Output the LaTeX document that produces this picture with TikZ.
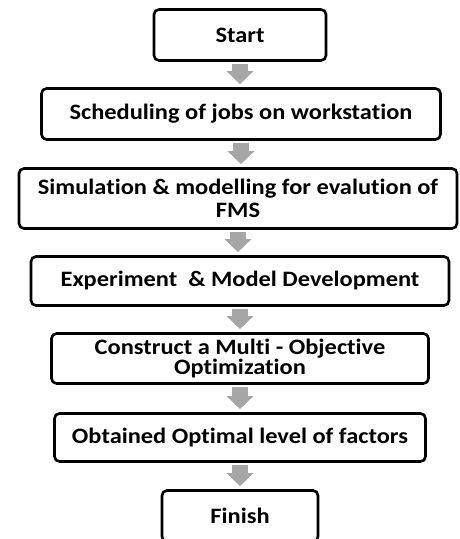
\documentclass[tikz,border=0pt]{standalone}
\usepackage{fontspec}
\setmainfont{Carlito}[Ligatures=NoCommon, FakeStretch=1.11]
\usepackage{tikz}
\tikzset{>=latex}
\usetikzlibrary{arrows.meta,calc,positioning}
\definecolor{flowgray}{HTML}{A6A6A6}
\tikzset{stepbox/.style={draw=black, line width=2.6pt, rounded corners=5pt, align=center,
           inner sep=0pt, font=\bfseries\fontsize{22}{23}\selectfont},
         tight/.style={font=\bfseries\fontsize{22}{20}\selectfont},
         flow/.style={draw=flowgray, line width=16pt, -{Triangle[width=26pt,length=13pt]},
           shorten <=2.5pt, shorten >=3pt}}

\begin{document}
\begin{tikzpicture}[x=1pt,y=1pt]
                    \useasboundingbox (0,0) rectangle (460,539);
                    % the steps, top to bottom
                    \node[stepbox, minimum width=172pt, minimum height=51pt] (start) at (240,504) {Start};
                    \node[stepbox, minimum width=399pt, minimum height=51pt] (sched) at (241,425) {Scheduling of jobs on workstation};
                    \node[stepbox, minimum width=438pt, minimum height=60pt] (simul) at (238,340.5) {Simulation \& modelling for evalution of\\FMS};
                    \node[stepbox, minimum width=418pt, minimum height=49pt] (exper) at (240,258) {Experiment~ \& Model Development};
                    \node[stepbox, tight, minimum width=377pt, minimum height=50pt] (moo) at (240,180.5) {Construct a Multi - Objective\\Optimization};
                    \node[stepbox, minimum width=371pt, minimum height=48pt] (optim) at (240,101.5) {Obtained Optimal level of factors};
                    \node[stepbox, minimum width=156pt, minimum height=51pt] (finish) at (240,23) {Finish};

                    % gray block arrows between the steps
                    \foreach \a/\b in {start/sched, sched/simul, simul/exper, exper/moo, moo/optim, optim/finish}
                        \draw[flow] (\a.south) -- (\a.south |- \b.north);
                \end{tikzpicture}
\end{document}
